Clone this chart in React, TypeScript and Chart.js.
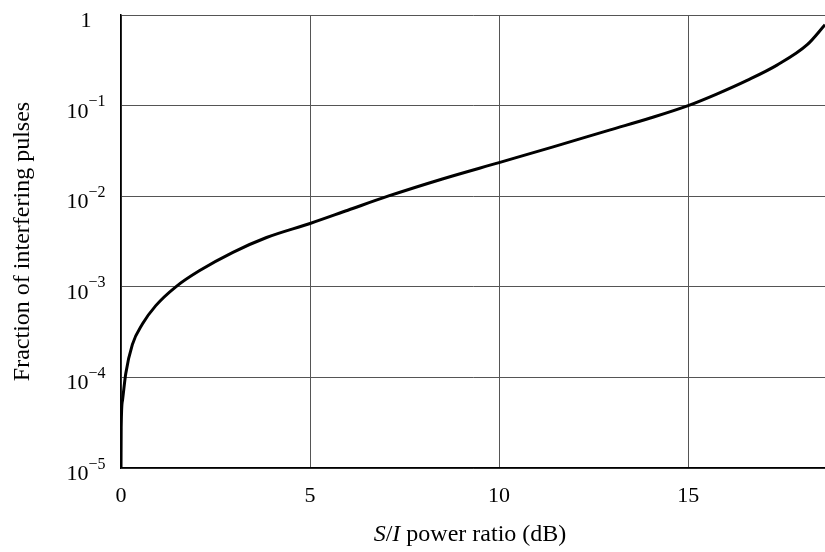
import React, { useEffect, useRef } from "react";
import { Chart, registerables } from "chart.js";

Chart.register(...registerables);

// S/I power ratio (dB)
const xValues = [
  0, 0.005, 0.04, 0.125, 0.3, 0.57, 0.92, 1.45, 2.07, 2.96, 3.85, 5.0, 6.0,
  7.06, 8.5, 10.0, 11.43, 12.94, 14.0, 15.0, 15.77, 16.56, 17.35, 18.15, 18.62,
];
// Fraction of interfering pulses
const yValues = [
  1e-5, 2.8e-5, 5.6e-5, 1.1e-4, 2.3e-4, 3.9e-4, 6.2e-4, 1.0e-3, 1.5e-3, 2.4e-3,
  3.5e-3, 5.0e-3, 7.0e-3, 1.0e-2, 1.55e-2, 2.35e-2, 3.5e-2, 5.4e-2, 7.3e-2, 0.1,
  0.135, 0.19, 0.28, 0.47, 0.78,
];

const xTickValues = [0, 5, 10, 15];
const yTickValues = [1e-5, 1e-4, 1e-3, 1e-2, 1e-1, 1];
const yTickBase = ["10", "10", "10", "10", "10", "1"];
const yTickExp = ["−5", "−4", "−3", "−2", "−1", ""];

const FONT = "'Liberation Serif', 'Times New Roman', serif";

const powerTickPlugin = {
  id: "powerTicks",
  afterDraw(chart: any) {
    const scale = chart.scales.y;
    const ctx = chart.ctx as CanvasRenderingContext2D;
    const centerX = scale.right - 35;
    ctx.save();
    ctx.fillStyle = "#000";
    ctx.textBaseline = "alphabetic";
    ctx.textAlign = "left";
    yTickValues.forEach((v, i) => {
      const py = scale.getPixelForValue(v);
      const baseFont = `22px ${FONT}`;
      const expFont = `16px ${FONT}`;
      ctx.font = baseFont;
      const wb = ctx.measureText(yTickBase[i]).width;
      ctx.font = expFont;
      const we = yTickExp[i] ? ctx.measureText(yTickExp[i]).width : 0;
      const start = centerX - (wb + we) / 2;
      ctx.font = baseFont;
      ctx.fillText(yTickBase[i], start, py + 12);
      if (yTickExp[i]) {
        ctx.font = expFont;
        ctx.fillText(yTickExp[i], start + wb, py + 0.5);
      }
    });
    ctx.restore();
  },
};

export default function App() {
  const canvasRef = useRef<HTMLCanvasElement | null>(null);

  useEffect(() => {
    const canvas = canvasRef.current;
    if (!canvas) return;
    const data = xValues.map((x, i) => ({ x, y: yValues[i] }));
    const chart = new Chart(canvas, {
      type: "line",
      data: {
        datasets: [
          {
            data,
            borderColor: "#000",
            borderWidth: 3,
            pointRadius: 0,
            fill: false,
            cubicInterpolationMode: "monotone",
          },
        ],
      },
      options: {
        animation: false,
        responsive: false,
        maintainAspectRatio: false,
        layout: { padding: { top: 15, right: 0, left: 0, bottom: 0 } },
        plugins: {
          legend: { display: false },
          tooltip: { enabled: false },
        },
        scales: {
          x: {
            type: "linear",
            min: 0,
            max: 18.62,
            afterBuildTicks: (scale: any) => {
              scale.ticks = xTickValues.map((v) => ({ value: v }));
            },
            afterFit: (scale: any) => {
              scale.height = 84;
            },
            grid: { color: "#555", lineWidth: 1, drawTicks: false },
            border: { color: "#000", width: 1.5 },
            ticks: {
              padding: 15,
              color: "#000",
              font: { family: FONT, size: 22 },
              maxRotation: 0,
              callback: (v: any) => String(v),
            },
          },
          y: {
            type: "logarithmic",
            min: 1e-5,
            max: 1,
            afterBuildTicks: (scale: any) => {
              scale.ticks = yTickValues.map((v) => ({ value: v }));
            },
            afterFit: (scale: any) => {
              scale.width = 121;
            },
            grid: { color: "#555", lineWidth: 1, drawTicks: false },
            border: { color: "#000", width: 1.5 },
            ticks: { display: false },
            title: {
              display: true,
              text: "Fraction of interfering pulses",
              color: "#000",
              font: { family: FONT, size: 24 },
              padding: { top: 8, bottom: 0 },
            },
          },
        },
      },
      plugins: [powerTickPlugin],
    } as any);
    return () => chart.destroy();
  }, []);

  return (
    <div
      style={{
        position: "fixed",
        left: 0,
        top: 0,
        width: 825,
        height: 552,
        background: "#fff",
      }}
    >
      <canvas ref={canvasRef} width={825} height={552} style={{ width: 825, height: 552 }} />
      <div
        style={{
          position: "absolute",
          left: 470,
          top: 519,
          transform: "translateX(-50%)",
          whiteSpace: "nowrap",
          fontFamily: FONT,
          fontSize: 24,
          lineHeight: "28px",
          color: "#000",
        }}
      >
        <i>S</i>/<i>I</i> power ratio (dB)
      </div>
    </div>
  );
}
